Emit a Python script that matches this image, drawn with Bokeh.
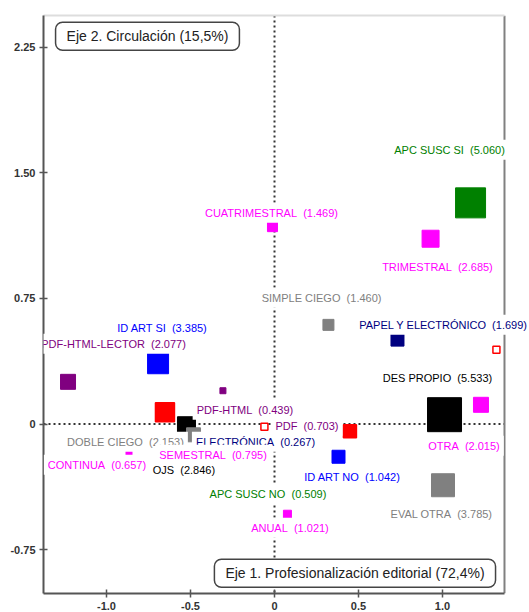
from bokeh.plotting import figure
from bokeh.models import (Label, Span, LinearAxis, FixedTicker, Range1d,
                          ColumnDataSource, CustomJSTickFormatter)
from bokeh.embed import file_html
from bokeh.resources import INLINE

# ---------------- data ----------------
categories = ["APC SUSC SI", "TRIMESTRAL", "CUATRIMESTRAL", "SIMPLE CIEGO",
              "PAPEL Y ELECTRÓNICO", "DES PROPIO", "OTRA", "EVAL OTRA",
              "ID ART NO", "PDF", "APC SUSC NO", "ANUAL", "ID ART SI",
              "PDF-HTML-LECTOR", "PDF-HTML", "OJS", "DOBLE CIEGO",
              "ELECTRÓNICA", "SEMESTRAL", "CONTINUA"]
groups = ["apc", "period", "period", "review", "support", "platform", "period",
          "review", "id", "format", "apc", "period", "id", "format", "format",
          "platform", "review", "support", "period", "period"]
contrib = [5.060, 2.685, 1.469, 1.460, 1.699, 5.533, 2.015, 3.785, 1.042,
           0.703, 0.509, 1.021, 3.385, 2.077, 0.439, 2.846, 2.153, 0.267,
           0.795, 0.657]
dim1 = [1.167, 0.929, -0.012, 0.321, 0.732, 1.012, 1.229, 1.003, 0.381,
        0.193, -0.039, 0.077, -0.693, -1.229, -0.307, -0.524, -0.482,
        -0.113, -0.366, -0.866]
dim2 = [1.320, 1.106, 1.178, 0.592, 0.504, 0.056, 0.115, -0.365, -0.195,
        -0.010, -0.416, -0.538, 0.363, 0.252, 0.199, -0.010, -0.064,
        -0.105, -0.183, -0.171]
label_x = [1.042, 0.970, -0.018, 0.280, 1.006, 0.970, 1.128, 0.994, 0.464,
           0.193, -0.039, 0.092, -0.667, -0.958, -0.176, -0.539, -0.887,
           -0.113, -0.366, -1.057]
label_y = [1.637, 0.939, 1.261, 0.754, 0.592, 0.276, -0.129, -0.535, -0.314,
           -0.010, -0.416, -0.618, 0.575, 0.479, 0.085, -0.272, -0.105,
           -0.105, -0.183, -0.243]
marker_px = [30, 17, 10, 11, 13, 34, 15, 23, 13, 6, 6, 8, 21, 15, 6, 18, 14,
             6, 6, 6]

# supplementary (unlabelled) points
supp_x = [-0.652, 0.449, -0.060, 1.321]
supp_y = [0.070, -0.043, -0.016, 0.443]
supp_px = [19, 13, 7, 7]
supp_filled = [True, True, False, False]

x_ticks = [-1.0, -0.5, 0.0, 0.5, 1.0]
y_ticks = [-0.75, 0.0, 0.75, 1.50, 2.25]
x_lim = (-1.375, 1.369)
y_lim = (-1.011, 2.438)
axis1_title = "Eje 1. Profesionalización editorial (72,4%)"
axis2_title = "Eje 2. Circulación (15,5%)"

palette = {"apc": "#008000", "period": "#FF00FF", "review": "#808080",
           "support": "#000080", "platform": "#000000", "id": "#0000FF",
           "format": "#800080"}
colors = [palette[g] for g in groups]

# ---------------- figure ----------------
# frame extends a little past the right edge of the box so labels may overflow
frame_px = 486
px_per_unit = 168
p = figure(width=529, height=612,
           x_range=Range1d(x_lim[0], x_lim[0] + frame_px / px_per_unit),
           y_range=Range1d(*y_lim),
           output_backend="svg", toolbar_location=None,
           min_border_left=43, min_border_right=0,
           min_border_top=15, min_border_bottom=19)
p.grid.visible = False
p.outline_line_color = None
p.background_fill_color = "white"

for ax, ticks, fmt in ((p.xaxis[0], x_ticks, 1), (p.yaxis[0], y_ticks, 2)):
    ax.ticker = FixedTicker(ticks=ticks)
    ax.formatter = CustomJSTickFormatter(
        code=f"return Math.abs(tick) < 1e-9 ? '0' : tick.toFixed({fmt});")
    ax.axis_line_color = "#555555"
    ax.axis_line_width = 2
    ax.major_tick_line_color = "#555555"
    ax.major_tick_line_width = 1.5
    ax.major_tick_in = 4
    ax.major_tick_out = 4
    ax.minor_tick_line_color = None
    ax.major_label_text_font = "Liberation Sans"
    ax.major_label_text_font_size = "11px"
    ax.major_label_text_font_style = "bold"
    ax.major_label_text_color = "#333333"
    ax.major_label_standoff = 4
p.xaxis[0].bounds = x_lim

top_ax = LinearAxis(ticker=FixedTicker(ticks=[]), axis_line_color="#dddddd",
                    axis_line_width=2, major_tick_line_color=None,
                    minor_tick_line_color=None, bounds=x_lim)
p.add_layout(top_ax, "above")

# right edge of the box
p.add_layout(Span(location=x_lim[1], dimension="height", line_color="#808080",
                  line_width=2, level="underlay"))

# dotted origin lines (horizontal one limited to the box)
p.add_layout(Span(location=0, dimension="height", line_color="#333333",
                  line_width=2, line_dash="2 3", level="underlay"))
p.segment(x0=[x_lim[0]], y0=[0], x1=[x_lim[1]], y1=[0], line_color="#333333",
          line_width=2, line_dash="2 3", level="underlay")

src = ColumnDataSource(dict(x=dim1, y=dim2, size=marker_px, color=colors))
p.scatter(x="x", y="y", size="size", marker="square", fill_color="color",
          line_color="color", source=src)

supp = ColumnDataSource(dict(x=supp_x, y=supp_y, size=supp_px,
                             fill=["red" if f else "white" for f in supp_filled]))
p.scatter(x="x", y="y", size="size", marker="square", fill_color="fill",
          line_color="red", line_width=1.5, source=supp)

for cat, c, lx, ly, col in zip(categories, contrib, label_x, label_y, colors):
    p.add_layout(Label(x=lx, y=ly, text=f"{cat}\u00a0\u00a0({c:.3f})",
                       text_align="center", text_baseline="middle",
                       text_font="Liberation Sans", text_font_size="11px",
                       text_color=col, background_fill_color="white",
                       padding=4))

for txt, bx, by in ((axis2_title, -0.756, 2.314), (axis1_title, 0.479, -0.890)):
    p.add_layout(Label(x=bx, y=by, text=txt, text_align="center",
                       text_baseline="middle", text_font="Liberation Sans",
                       text_font_size="14px", text_color="#222222",
                       background_fill_color="white",
                       border_line_color="#444444", border_line_width=1.5,
                       border_radius=7, padding=(11, 6)))

open("out.html", "w").write(file_html(p, INLINE))
